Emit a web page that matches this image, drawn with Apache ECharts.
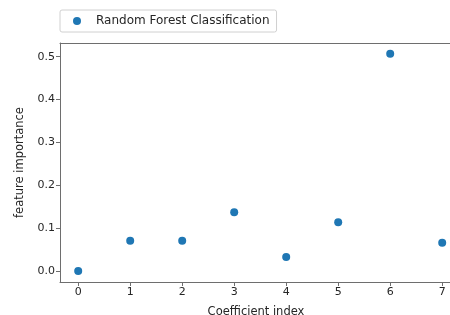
<!DOCTYPE html>
<html>
<head>
<meta charset="utf-8">
<script src="https://cdn.jsdelivr.net/npm/echarts@6/dist/echarts.min.js"></script>
<style>
  html, body { margin: 0; padding: 0; background: #fff; }
  #chart { width: 450px; height: 315px; }
</style>
</head>
<body>
<div id="chart"></div>
<script>
'use strict'

var coefIndex = [0, 1, 2, 3, 4, 5, 6, 7];
var importance = [0.0, 0.071, 0.071, 0.137, 0.033, 0.114, 0.507, 0.066];
var yTicks = [0.0, 0.1, 0.2, 0.3, 0.4, 0.5];

var points = coefIndex.map(function (x, i) { return [x, importance[i]]; });

var font = 'DejaVu Sans';
var axisColor = '#6e6e6e';
var textColor = '#262626';

var myChart = echarts.init(document.getElementById('chart'), null, { renderer: 'canvas' });
var option = {
    animation: false,
    textStyle: { fontFamily: font },
    legend: {
        left: 60,
        top: 10,
        padding: [5, 7, 5, 13],
        itemWidth: 8,
        itemHeight: 8,
        borderColor: '#d0d0d0',
        borderWidth: 1,
        borderRadius: 2,
        textStyle: { fontFamily: font, fontSize: 12, color: textColor, padding: [0, 0, 0, 10] },
        data: [{ name: 'Random Forest Classification', icon: 'circle' }]
    },
    grid: {
        left: 60,
        right: 0,
        top: 43,
        bottom: 33,
        outerBoundsMode: 'none',
        containLabel: false,
        show: false
    },
    xAxis: [
        {
            type: 'value',
            min: -0.35,
            max: 7.15,
            name: 'Coefficient index',
            nameLocation: 'middle',
            nameGap: 24,
            nameTextStyle: { fontFamily: font, fontSize: 11.5, color: textColor, padding: [0, 0, 0, 2] },
            axisLine: { show: true, onZero: false, lineStyle: { color: axisColor } },
            axisTick: { show: true, length: 4, lineStyle: { color: axisColor }, customValues: coefIndex },
            axisLabel: {
                fontFamily: font, fontSize: 11, color: textColor, margin: 5,
                customValues: coefIndex
            },
            splitLine: { show: false }
        },
        {
            type: 'value',
            position: 'top',
            min: -0.35,
            max: 7.15,
            axisLine: { show: true, onZero: false, lineStyle: { color: axisColor } },
            axisTick: { show: false },
            axisLabel: { show: false },
            splitLine: { show: false }
        }
    ],
    yAxis: {
        type: 'value',
        min: -0.0254,
        max: 0.532,
        name: 'feature importance',
        nameLocation: 'middle',
        nameGap: 34,
        nameTextStyle: { fontFamily: font, fontSize: 11.5, color: textColor },
        axisLine: { show: true, onZero: false, lineStyle: { color: axisColor } },
        axisTick: { show: true, length: 4, lineStyle: { color: axisColor }, customValues: yTicks },
        axisLabel: {
            fontFamily: font, fontSize: 11, color: textColor, margin: 5,
            customValues: yTicks,
            formatter: function (v) { return v.toFixed(1); }
        },
        splitLine: { show: false }
    },
    series: [
        {
            name: 'Random Forest Classification',
            type: 'scatter',
            symbol: 'circle',
            symbolSize: 8,
            itemStyle: { color: '#1f77b4', opacity: 1 },
            data: points
        }
    ]
};
myChart.setOption(option);
</script>
</body>
</html>
